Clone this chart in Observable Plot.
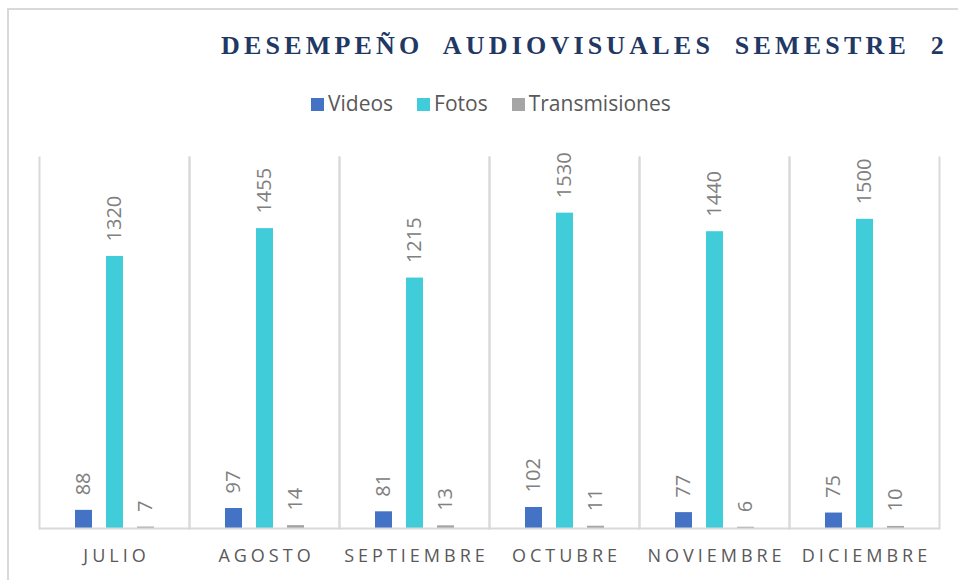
<!DOCTYPE html>
<html>
<head>
<meta charset="utf-8">
<script src="https://cdn.jsdelivr.net/npm/d3@7"></script>
<script src="https://cdn.jsdelivr.net/npm/@observablehq/plot@0.6"></script>
<style>
  html, body { margin: 0; padding: 0; overflow: hidden; background: #fff; width: 958px; height: 580px; }
  #border { position: absolute; left: 7px; top: 8px; width: 1000px; height: 1000px;
    border-left: 2px solid #d9d9d9; border-top: 2px solid #d9d9d9; }
  #title { position: absolute; left: 221px; top: 33px; font-family: "Liberation Serif", serif;
    font-weight: bold; font-size: 26px; line-height: 26px; letter-spacing: 4.2px; word-spacing: 10px; color: #1f3864; white-space: nowrap; }
  #legend { position: absolute; left: 311px; top: 93px; display: flex; align-items: flex-start;
    font-family: "Open Sans", sans-serif; font-size: 21px; line-height: 21px; color: #595959; white-space: nowrap; }
  #legend .item { display: flex; align-items: flex-start; margin-right: 24px; }
  #legend .sw { width: 13px; height: 13px; margin-top: 5px; margin-right: 4px; }
  #chart { position: absolute; left: 0; top: 130px; }
  #chart [aria-label="fx-axis tick label"] text { letter-spacing: 4px; }
</style>
</head>
<body>
<div id="border"></div>
<div id="title">DESEMPEÑO AUDIOVISUALES SEMESTRE 2</div>
<div id="legend"></div>
<div id="chart"></div>
<script>
const months = ["JULIO", "AGOSTO", "SEPTIEMBRE", "OCTUBRE", "NOVIEMBRE", "DICIEMBRE"];
const series = ["Videos", "Fotos", "Transmisiones"];
const colors = ["#4472C4", "#41CCD9", "#A5A5A5"];
const videos = [88, 97, 81, 102, 77, 75];
const fotos = [1320, 1455, 1215, 1530, 1440, 1500];
const transmisiones = [7, 14, 13, 11, 6, 10];
const yDomain = [0, 1800];

const values = [videos, fotos, transmisiones];
const data = [];
months.forEach((m, i) => {
  series.forEach((s, j) => data.push({month: m, serie: s, value: values[j][i]}));
});

// legend
const legend = document.getElementById("legend");
series.forEach((s, j) => {
  const item = document.createElement("div");
  item.className = "item";
  const sw = document.createElement("span");
  sw.className = "sw";
  sw.style.background = colors[j];
  const t = document.createElement("span");
  t.textContent = s;
  item.appendChild(sw);
  item.appendChild(t);
  legend.appendChild(item);
});

const chart = Plot.plot({
  width: 958,
  height: 450,
  marginTop: 27,
  marginBottom: 52,
  marginLeft: 38,
  marginRight: 18,
  style: {fontFamily: "'Open Sans', sans-serif", background: "transparent", overflow: "visible"},
  fx: {domain: months, padding: 0, label: null},
  x: {domain: series, paddingInner: 0.46, paddingOuter: 1.1, axis: null},
  y: {domain: yDomain, axis: null},
  color: {domain: series, range: colors},
  marks: [
    Plot.frame({anchor: "left", stroke: "#d9d9d9", strokeWidth: 2}),
    Plot.frame({anchor: "right", stroke: "#d9d9d9", strokeWidth: 2}),
    Plot.barY(data, {fx: "month", x: "serie", y: "value", fill: "serie"}),
    Plot.ruleY([0], {stroke: "#d9d9d9", strokeWidth: 2}),
    Plot.text(data, {fx: "month", x: "serie", y: "value", text: d => String(d.value),
      rotate: -90, textAnchor: "start", dy: -15, fontSize: 20, fill: "#808080"}),
    Plot.axisFx({anchor: "bottom", tickSize: 0, tickPadding: 21, fontSize: 18, dx: 2, color: "#595959", label: null})
  ]
});
document.getElementById("chart").appendChild(chart);
</script>
</body>
</html>
